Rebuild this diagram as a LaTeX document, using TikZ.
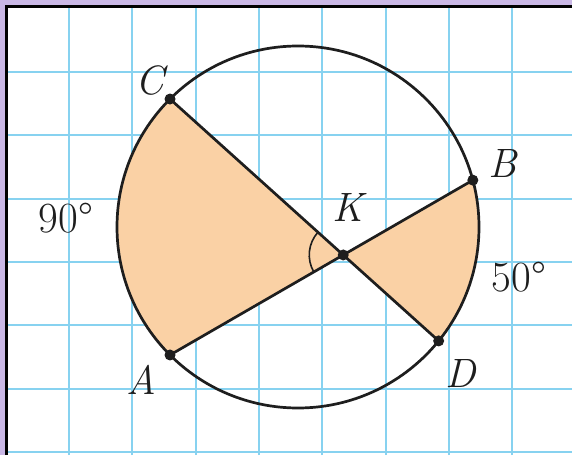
\documentclass[tikz,border=0pt]{standalone}
\usetikzlibrary{calc,angles}
\definecolor{frameviolet}{RGB}{201,183,229}
\definecolor{gridblue}{RGB}{135,210,240}
\definecolor{peach}{RGB}{250,209,165}
\definecolor{ink}{RGB}{30,30,30}
\begin{document}
\begin{tikzpicture}[x=1pt,y=1pt,
  gridline/.style={gridblue,line width=2pt},
  figline/.style={ink,line width=2.7pt},
  dotmark/.style={circle,fill=ink,inner sep=0pt,minimum size=11pt},
  ptlabel/.style={font=\fontsize{41}{48}\selectfont\itshape,text=ink,inner sep=0pt},
  numlabel/.style={font=\fontsize{43}{50}\selectfont,text=ink,inner sep=0pt}]
\useasboundingbox (0,0) rectangle (572,455);
% frame
\fill[frameviolet] (0,0) rectangle (572,455);
\fill[white] (6,0) rectangle (572,449);
% grid
\foreach \i in {0,...,7} {
  \draw[gridline] ({69+63.3*\i},0) -- ({69+63.3*\i},449);
}
\foreach \j in {0,...,6} {
  \draw[gridline] (6,{455-(72+63.3*\j)}) -- (572,{455-(72+63.3*\j)});
}
\draw[black,line width=2.2pt] (6.5,0) -- (6.5,448.5) -- (572,448.5);
% circle geometry
\coordinate (O) at (298,228);
\coordinate (C) at ($(O)+(135:181)$);
\coordinate (A) at ($(O)+(225:181)$);
\coordinate (B) at ($(O)+(15:181)$);
\coordinate (D) at ($(O)+(-39:181)$);
\coordinate (K) at (intersection of A--B and C--D);
% shaded regions
\fill[peach] (K) -- (C) arc[start angle=135,end angle=225,radius=181] -- cycle;
\fill[peach] (K) -- (B) arc[start angle=15,end angle=-39,radius=181] -- cycle;
% circle and chords
\draw[figline] (O) circle[radius=181];
\draw[figline] (A) -- (B);
\draw[figline] (C) -- (D);
\pic[draw=ink,line width=1.6pt,angle radius=34pt] {angle=C--K--A};
% points
\foreach \p in {A,B,C,D,K} { \node[dotmark] (d\p) at (\p) {}; }
% labels
\node[ptlabel] (lC) at (150,374) {C};
\node[ptlabel] (lB) at (503,291) {B};
\node[ptlabel] (lK) at (348,247) {K};
\node[ptlabel] (lA) at (141,75) {A};
\node[ptlabel] (lD) at (461,82) {D};
\node[numlabel] (l90) at (66,237) {90\textdegree};
\node[numlabel] (l50) at (519,178) {50\textdegree};
\end{tikzpicture}
\end{document}
